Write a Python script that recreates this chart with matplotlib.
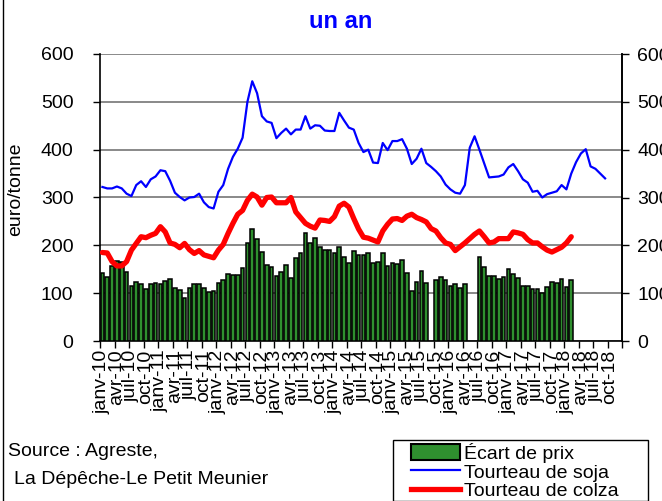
import numpy as np
import matplotlib
matplotlib.use("Agg")
import matplotlib.pyplot as plt
from matplotlib.patches import Patch, Rectangle
from matplotlib.lines import Line2D

plt.rcParams['font.family'] = ['Liberation Sans', 'DejaVu Sans']

months = ["janv", "févr", "mars", "avr", "mai", "juin", "juil", "août", "sept", "oct", "nov", "déc"]
years = list(range(10, 19))
categories = [f"{m}-{y}" for y in years for m in months]  # 108 months

ecart = [143, 134, 157, 167, 165, 144, 116, 124, 119, 108, 119, 122,
         119, 126, 130, 110, 106, 90, 110, 119, 119, 111, 103, 104,
         122, 127, 141, 139, 137, 153, 205, 234, 214, 187, 159, 154,
         136, 145, 159, 131, 173, 184, 225, 205, 216, 197, 190, 191,
         184, 197, 175, 164, 189, 180, 180, 184, 164, 166, 184, 157,
         164, 161, 169, 143, 105, 124, 147, 122, None, 127, 133, 127,
         116, 120, 111, 119, None, None, 175, 154, 136, 136, 129, 134,
         150, 141, 131, 115, 116, 108, 108, 101, 113, 124, 122, 129,
         113, 128]

soja = [322, 319, 319, 323, 319, 308, 303, 326, 334, 322, 338, 344,
        357, 355, 335, 310, 301, 294, 300, 301, 308, 290, 280, 277,
        312, 326, 360, 385, 402, 425, 500, 543, 518, 470, 459, 456,
        424, 435, 444, 432, 442, 442, 470, 444, 451, 450, 440, 439,
        439, 477, 461, 446, 442, 414, 395, 400, 373, 372, 414, 399,
        418, 418, 422, 402, 370, 381, 402, 372, 364, 355, 344, 327,
        317, 310, 308, 326, 404, 428, 400, 371, 342, 343, 344, 348,
        363, 370, 355, 338, 331, 312, 314, 300, 307, 310, 313, 326,
        317, 350, 374, 392, 401, 365, 360, 350, 340]

colza = [185, 184, 166, 157, 157, 166, 190, 204, 218, 216, 221, 225,
         239, 228, 205, 202, 195, 204, 191, 183, 189, 180, 177, 174,
         190, 202, 225, 246, 265, 273, 294, 307, 301, 284, 300, 301,
         289, 289, 289, 300, 270, 258, 246, 240, 236, 253, 252, 250,
         260, 282, 288, 280, 256, 234, 217, 215, 211, 207, 230, 244,
         255, 256, 252, 261, 265, 258, 254, 249, 235, 230, 216, 205,
         202, 189, 197, 205, 214, 223, 230, 218, 205, 207, 214, 214,
         214, 228, 226, 223, 212, 205, 205, 197, 190, 186, 191, 196,
         205, 218]

n = len(categories)

def pad(vals):
    arr = np.full(n, np.nan)
    arr[:len(vals)] = [np.nan if v is None else v for v in vals]
    return arr

ecart_a = pad(ecart)
soja_a = pad(soja)
colza_a = pad(colza)
x = np.arange(n)

W, H = 662, 501
fig = plt.figure(figsize=(W / 100, H / 100), dpi=100)
ax = fig.add_axes([100 / W, 1 - 341 / H, 522 / W, 287 / H])

ax.bar(x, ecart_a, width=0.78, color='#2f8f2f', edgecolor='black', linewidth=1.1, zorder=3)
ax.plot(x, soja_a, color='#0000ff', lw=1.6, zorder=4)
ax.plot(x, colza_a, color='#ff0000', lw=3.8, zorder=4, solid_capstyle='round')

ax.set_xlim(-0.5, n - 0.5)
ax.set_ylim(0, 600)
ax.set_yticks(range(0, 601, 100))
ax.yaxis.grid(True, color='#808080', lw=1.3, zorder=0)
ax.set_axisbelow(True)

ax.set_xticks(np.arange(-0.5, n, 3))
ax.set_xticklabels([])
ax.set_xticks(np.arange(0, n, 3), minor=True)
ax.set_xticklabels(categories[::3], minor=True, rotation=90, fontsize=14)
ax.tick_params(axis='x', which='minor', length=0, pad=6)
ax.tick_params(axis='x', which='major', length=5, width=1, direction='out')
ax.tick_params(axis='y', labelsize=14, length=5, width=1, direction='out', pad=14)

for s in ['left', 'right', 'bottom']:
    ax.spines[s].set_color('black')
    ax.spines[s].set_linewidth(1.2)
ax.spines['top'].set_visible(False)

ax.set_ylabel('euro/tonne', fontsize=14)
ax.yaxis.set_label_coords(-0.146, 0.53)

ax2 = ax.twinx()
ax2.set_ylim(0, 600)
ax2.set_yticks(range(0, 601, 100))
ax2.tick_params(axis='y', labelsize=14, length=5, width=1, direction='out', pad=6)
ax2.spines['top'].set_visible(False)
ax2.spines['left'].set_visible(False)
ax2.spines['bottom'].set_visible(False)
ax2.spines['right'].set_linewidth(1.2)

fig.text(341 / W, 1 - 22 / H, 'un an', color='#0000ff', fontsize=17, fontweight='bold',
         ha='center', va='center')

fig.text(8 / W, 1 - 451 / H, 'Source : Agreste,', fontsize=14, ha='left', va='center')
fig.text(14 / W, 1 - 479 / H, 'La Dépêche-Le Petit Meunier', fontsize=14, ha='left', va='center')

handles = [Patch(facecolor='#2f8f2f', edgecolor='black', linewidth=1.5),
           Line2D([0], [0], color='#0000ff', lw=1.6),
           Line2D([0], [0], color='#ff0000', lw=3.8)]
labels = ['Écart de prix', 'Tourteau de soja', 'Tourteau de colza']
fig.legend(handles, labels, loc='upper left', bbox_to_anchor=(409 / W, 1 - 441 / H),
           fontsize=14, frameon=False,
           handlelength=2.5, handleheight=0.9, handletextpad=0.25, labelspacing=0.0,
           borderpad=0.1, borderaxespad=0)
fig.add_artist(Rectangle((393 / W, 0), 255 / W, 61 / H, transform=fig.transFigure,
                         fill=False, edgecolor='black', lw=1.0))

fig.add_artist(Line2D([3 / W, 3 / W], [0, 1], color='black', lw=1.0, transform=fig.transFigure))

fig.savefig('out.png', dpi=100)
